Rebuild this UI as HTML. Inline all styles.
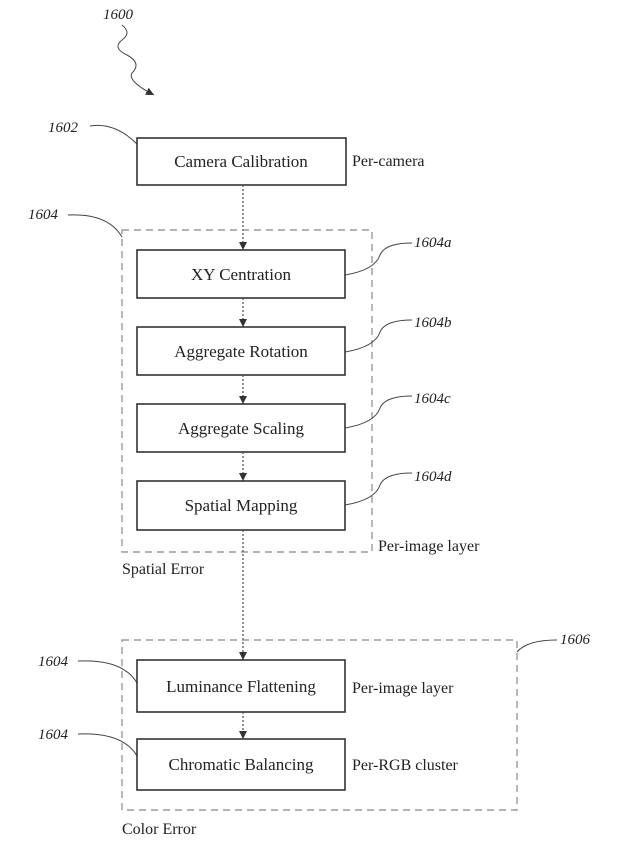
<!DOCTYPE html>
<html><head><meta charset="utf-8"><style>
html,body{margin:0;padding:0;background:#fff;}
svg{display:block}
text{font-family:"Liberation Serif",serif;fill:#222;}
.b{fill:#fff;stroke:#333;stroke-width:1.6}
.t{font-size:17px;text-anchor:middle}
.l{font-size:16px}
.r{font-size:15px;font-style:italic}
.d{fill:none;stroke:#888;stroke-width:1.2;stroke-dasharray:7,5}
.c{fill:none;stroke:#444;stroke-width:1}
.v{stroke:#555;stroke-width:1.3;stroke-dasharray:2,2}
</style></head><body>
<svg width="621" height="865" viewBox="0 0 621 865">
<defs><marker id="a" markerWidth="9" markerHeight="9" refX="8" refY="4" orient="auto" markerUnits="userSpaceOnUse"><path d="M0,0 L8,4 L0,8z" fill="#333"/></marker></defs>
<text x="103" y="19" class="r">1600</text>
<path class="c" d="M122,25 q10,8 0,15 q-10,8 5,15 q15,8 5,18 q-5,8 22,22" marker-end="url(#a)"/>
<text x="48" y="132" class="r">1602</text>
<path class="c" d="M90,126 q25,-4 47,18"/>
<rect class="b" x="137" y="138" width="209" height="47"/>
<text x="241" y="167" class="t">Camera Calibration</text>
<text x="352" y="166" class="l">Per-camera</text>
<line class="v" x1="243" y1="185" x2="243" y2="250" marker-end="url(#a)"/>
<rect class="d" x="122" y="230" width="250" height="322"/>
<text x="28" y="219" class="r">1604</text>
<path class="c" d="M68,215 q40,-2 54,22"/>
<rect class="b" x="137" y="250" width="208" height="48"/>
<text x="241" y="280" class="t">XY Centration</text>
<line class="v" x1="243" y1="298" x2="243" y2="327" marker-end="url(#a)"/>
<rect class="b" x="137" y="327" width="208" height="48"/>
<text x="241" y="357" class="t">Aggregate Rotation</text>
<line class="v" x1="243" y1="375" x2="243" y2="404" marker-end="url(#a)"/>
<rect class="b" x="137" y="404" width="208" height="48"/>
<text x="241" y="434" class="t">Aggregate Scaling</text>
<line class="v" x1="243" y1="452" x2="243" y2="481" marker-end="url(#a)"/>
<rect class="b" x="137" y="481" width="208" height="49"/>
<text x="241" y="511" class="t">Spatial Mapping</text>
<text x="414" y="247" class="r">1604a</text>
<path class="c" d="M345,275 q30,-5 35,-20 q5,-12 32,-12"/>
<text x="414" y="327" class="r">1604b</text>
<path class="c" d="M345,352 q30,-5 35,-20 q5,-12 32,-12"/>
<text x="414" y="403" class="r">1604c</text>
<path class="c" d="M345,428 q30,-5 35,-20 q5,-12 32,-12"/>
<text x="414" y="481" class="r">1604d</text>
<path class="c" d="M345,505 q30,-5 35,-20 q5,-12 32,-12"/>
<text x="378" y="551" class="l">Per-image layer</text>
<text x="122" y="574" class="l">Spatial Error</text>
<line class="v" x1="243" y1="530" x2="243" y2="660" marker-end="url(#a)"/>
<rect class="d" x="122" y="640" width="395" height="170"/>
<text x="560" y="644" class="r">1606</text>
<path class="c" d="M517,652 q10,-12 40,-12"/>
<text x="38" y="666" class="r">1604</text>
<path class="c" d="M78,661 q45,-2 59,22"/>
<rect class="b" x="137" y="660" width="208" height="52"/>
<text x="241" y="692" class="t">Luminance Flattening</text>
<text x="352" y="693" class="l">Per-image layer</text>
<line class="v" x1="243" y1="712" x2="243" y2="739" marker-end="url(#a)"/>
<text x="38" y="739" class="r">1604</text>
<path class="c" d="M78,734 q45,-2 59,22"/>
<rect class="b" x="137" y="739" width="208" height="51"/>
<text x="241" y="770" class="t">Chromatic Balancing</text>
<text x="352" y="770" class="l">Per-RGB cluster</text>
<text x="122" y="834" class="l">Color Error</text>
</svg>
</body></html>
